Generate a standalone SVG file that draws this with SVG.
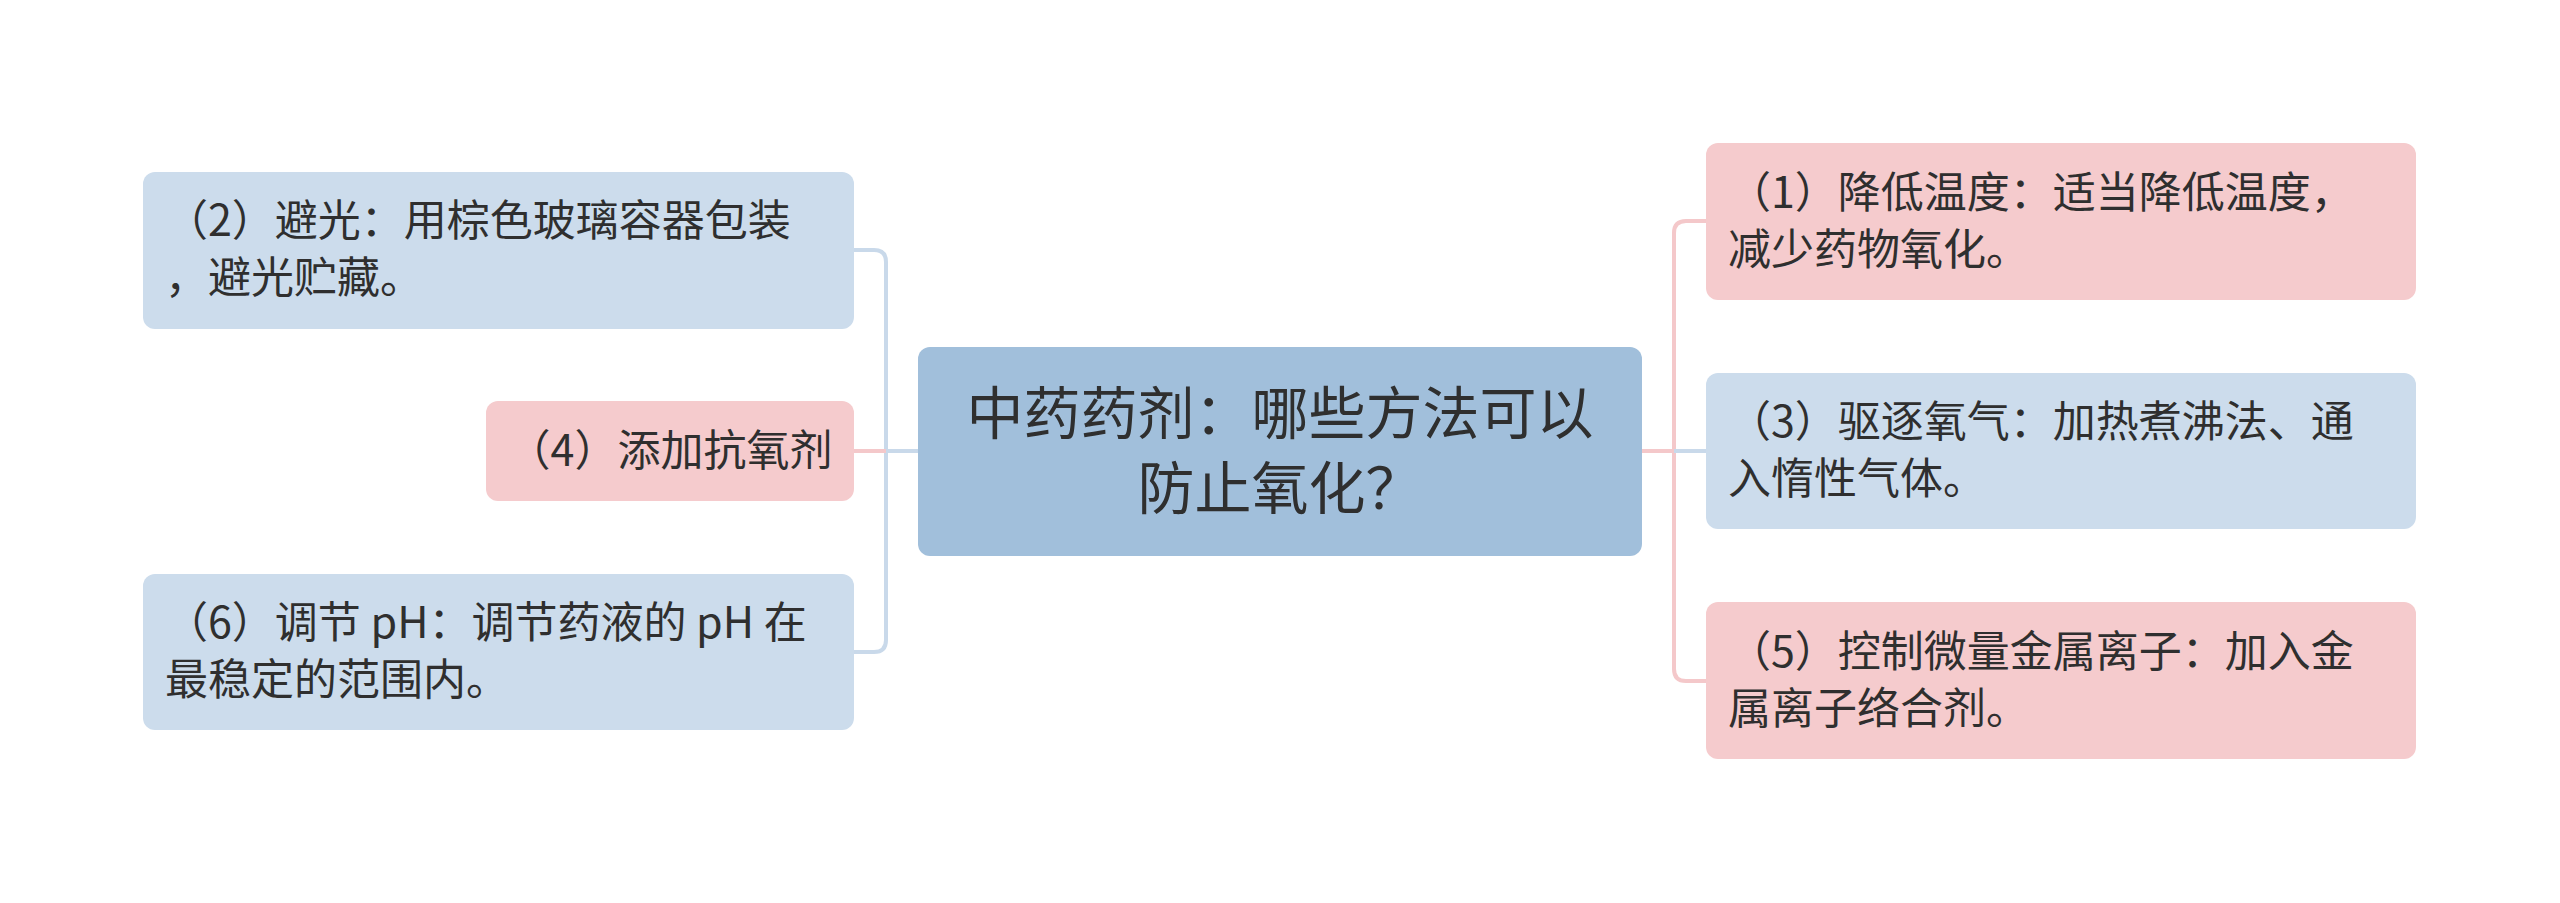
<svg xmlns="http://www.w3.org/2000/svg" width="2560" height="903" viewBox="0 0 2560 903">
<style>
.bg{fill:#ffffff}
.blue{fill:#ccdcec}
.pink{fill:#f5cbcd}
.root{fill:#a1bfdb}
.t{font-family:"Noto Sans CJK SC","Microsoft YaHei",sans-serif;font-size:43px;fill:#2f2f2f}
.tr{font-family:"Noto Sans CJK SC","Microsoft YaHei",sans-serif;font-size:57px;fill:#2f2f2f;text-anchor:middle}
.lb{fill:none;stroke:#c9d9ea;stroke-width:4}
.lp{fill:none;stroke:#f4c8ca;stroke-width:4}
</style>
<rect class="bg" x="0" y="0" width="2560" height="903"/>
<g id="connectors">
<path class="lb" d="M918 451 H886 V262 Q886 250 874 250 H854"/>
<path class="lb" d="M918 451 H886 V640 Q886 652 874 652 H854"/>
<path class="lp" d="M886 451 H854"/>
<path class="lp" d="M1642 451 H1674 V233 Q1674 221 1686 221 H1706"/>
<path class="lp" d="M1642 451 H1674 V669 Q1674 681 1686 681 H1706"/>
<path class="lb" d="M1674 451 H1706"/>
</g>
<g id="root">
<rect class="root" x="918" y="347" width="724" height="209" rx="12"/>
<text class="tr" x="1280" y="434">中药药剂：哪些方法可以</text>
<text class="tr" x="1280" y="509">防止氧化？</text>
</g>
<g id="n2">
<rect class="blue" x="143" y="172" width="711" height="157" rx="12"/>
<text class="t" x="165" y="236">（2）避光：用棕色玻璃容器包装</text>
<text class="t" x="165" y="293">，避光贮藏。</text>
</g>
<g id="n4">
<rect class="pink" x="486" y="401" width="368" height="100" rx="12"/>
<text class="t" x="670" y="466" text-anchor="middle">（4）添加抗氧剂</text>
</g>
<g id="n6">
<rect class="blue" x="143" y="574" width="711" height="156" rx="12"/>
<text class="t" x="165" y="638">（6）调节 pH：调节药液的 pH 在</text>
<text class="t" x="165" y="695">最稳定的范围内。</text>
</g>
<g id="n1">
<rect class="pink" x="1706" y="143" width="710" height="157" rx="12"/>
<text class="t" x="1728" y="208">（1）降低温度：适当降低温度，</text>
<text class="t" x="1728" y="265">减少药物氧化。</text>
</g>
<g id="n3">
<rect class="blue" x="1706" y="373" width="710" height="156" rx="12"/>
<text class="t" x="1728" y="437">（3）驱逐氧气：加热煮沸法、通</text>
<text class="t" x="1728" y="494">入惰性气体。</text>
</g>
<g id="n5">
<rect class="pink" x="1706" y="602" width="710" height="157" rx="12"/>
<text class="t" x="1728" y="667">（5）控制微量金属离子：加入金</text>
<text class="t" x="1728" y="724">属离子络合剂。</text>
</g>
</svg>
